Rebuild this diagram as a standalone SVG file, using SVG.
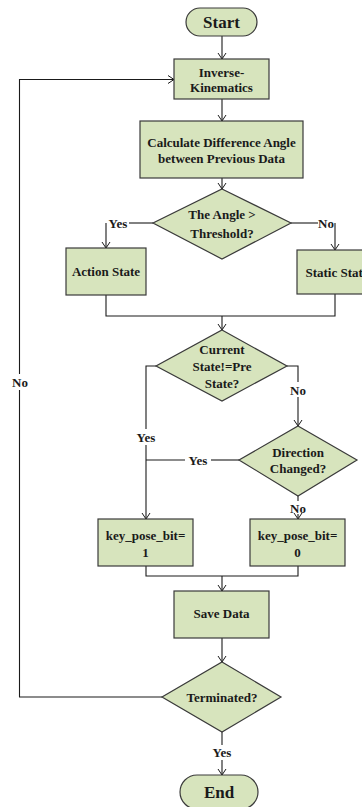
<svg xmlns="http://www.w3.org/2000/svg" width="362" height="807" viewBox="0 0 362 807">
<defs>
<style>
.n{fill:#d7e4bd;stroke:#3a3a3a;stroke-width:1.2}
.t{font-family:"Liberation Serif","Times New Roman",serif;font-weight:bold;font-size:13px;fill:#1a1a1a;text-anchor:middle}
.big{font-size:17px}
.c{fill:none;stroke:#1a1a1a;stroke-width:1.1}
</style>
<marker id="a" viewBox="0 0 10 10" refX="10" refY="5" markerWidth="10" markerHeight="10" markerUnits="userSpaceOnUse" orient="auto">
<path d="M4,1 L10,5 L4,9" fill="none" stroke="#1a1a1a" stroke-width="1"/>
</marker>
</defs>
<rect width="362" height="807" fill="#fff"/>
<g id="connectors">
<path class="c" d="M222,36 V59" marker-end="url(#a)"/>
<path class="c" d="M222,99 V121" marker-end="url(#a)"/>
<path class="c" d="M222,178 V189" marker-end="url(#a)"/>
<path class="c" d="M153,223 H129"/>
<path class="c" d="M106,223 V248" marker-end="url(#a)"/>
<path class="c" d="M291,223 H318"/>
<path class="c" d="M335,223 V250" marker-end="url(#a)"/>
<path class="c" d="M106,295 V316 H335 V294"/>
<path class="c" d="M222,316 V330" marker-end="url(#a)"/>
<path class="c" d="M156,366 H146 V429"/>
<path class="c" d="M146,445 V519" marker-end="url(#a)"/>
<path class="c" d="M287,366 H298 V382"/>
<path class="c" d="M298,397 V426" marker-end="url(#a)"/>
<path class="c" d="M239,460 H211"/>
<path class="c" d="M185,460 H146"/>
<path class="c" d="M298,496 V501"/>
<path class="c" d="M298,514 V519" marker-end="url(#a)"/>
<path class="c" d="M146,566 V576 H298 V566"/>
<path class="c" d="M222,576 V591" marker-end="url(#a)"/>
<path class="c" d="M222,638 V662" marker-end="url(#a)"/>
<path class="c" d="M162,697 H19.5 V390"/>
<path class="c" d="M19.5,374 V79.5 H174" marker-end="url(#a)"/>
<path class="c" d="M222,732 V745"/>
<path class="c" d="M222,760 V775" marker-end="url(#a)"/>
<text class="t" x="118" y="227.5">Yes</text>
<text class="t" x="326" y="227.5">No</text>
<text class="t" x="146" y="441.5">Yes</text>
<text class="t" x="298" y="394.5">No</text>
<text class="t" x="198" y="464.5">Yes</text>
<text class="t" x="298" y="512.5">No</text>
<text class="t" x="20" y="386.5">No</text>
<text class="t" x="222" y="756.5">Yes</text>
</g>
<g id="start">
<rect class="n" x="186" y="8" width="71" height="28" rx="14"/>
<text class="t big" x="221.5" y="28">Start</text>
</g>
<g id="ik">
<rect class="n" x="174" y="59" width="95" height="40"/>
<text class="t" x="221.5" y="76.5">Inverse-</text>
<text class="t" x="221.5" y="91.5">Kinematics</text>
</g>
<g id="calc">
<rect class="n" x="140" y="121" width="163" height="57"/>
<text class="t" x="221.5" y="146.5">Calculate Difference Angle</text>
<text class="t" x="221.5" y="162.5">between Previous Data</text>
</g>
<g id="d1">
<polygon class="n" points="222,189 291,223 222,259 153,223"/>
<text class="t" x="222" y="218.5">The Angle &gt;</text>
<text class="t" x="222" y="237.5">Threshold?</text>
</g>
<g id="action">
<rect class="n" x="66" y="248" width="80" height="47"/>
<text class="t" x="106" y="275.5">Action State</text>
</g>
<g id="static">
<rect class="n" x="297" y="250" width="80" height="44"/>
<text class="t" x="337" y="276.5">Static State</text>
</g>
<g id="d2">
<polygon class="n" points="222,330 287,366 222,401 156,366"/>
<text class="t" x="222" y="353.5">Current</text>
<text class="t" x="222" y="370.5">State!=Pre</text>
<text class="t" x="222" y="387.5">State?</text>
</g>
<g id="d3">
<polygon class="n" points="298,426 357,460 298,496 239,460"/>
<text class="t" x="298" y="456.5">Direction</text>
<text class="t" x="298" y="472.5">Changed?</text>
</g>
<g id="kp1">
<rect class="n" x="98" y="519" width="95" height="47"/>
<text class="t" x="145.5" y="539.5">key_pose_bit=</text>
<text class="t" x="145.5" y="556.5">1</text>
</g>
<g id="kp0">
<rect class="n" x="250" y="519" width="95" height="47"/>
<text class="t" x="297.5" y="539.5">key_pose_bit=</text>
<text class="t" x="297.5" y="556.5">0</text>
</g>
<g id="save">
<rect class="n" x="174" y="591" width="95" height="47"/>
<text class="t" x="221.5" y="617.5">Save Data</text>
</g>
<g id="term">
<polygon class="n" points="222,662 281,697 222,732 162,697"/>
<text class="t" x="222" y="701.5">Terminated?</text>
</g>
<g id="end">
<rect class="n" x="180" y="775" width="78" height="34" rx="17"/>
<text class="t big" x="219" y="798">End</text>
</g>
</svg>
